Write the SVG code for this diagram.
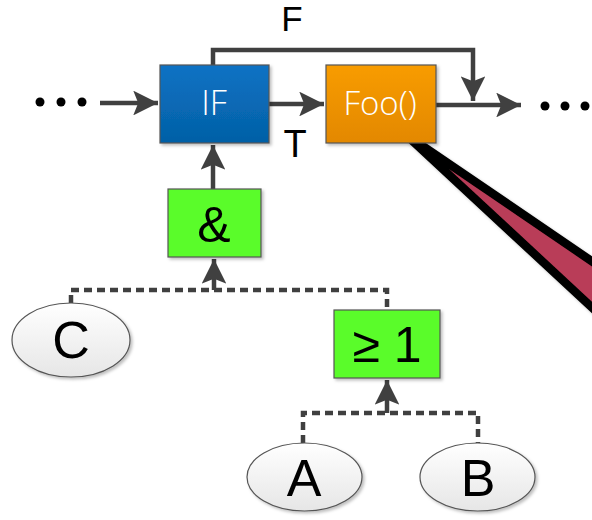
<svg xmlns="http://www.w3.org/2000/svg" width="592" height="520" viewBox="0 0 592 520">
  <defs>
    <linearGradient id="gBlue" x1="0" y1="0" x2="0" y2="1">
      <stop offset="0" stop-color="#0b72c4"/>
      <stop offset="1" stop-color="#0460a6"/>
    </linearGradient>
    <linearGradient id="gOrange" x1="0" y1="0" x2="0" y2="1">
      <stop offset="0" stop-color="#f89c05"/>
      <stop offset="1" stop-color="#e38800"/>
    </linearGradient>
    <linearGradient id="gEllipse" x1="0" y1="0" x2="0" y2="1">
      <stop offset="0" stop-color="#ffffff"/>
      <stop offset="1" stop-color="#e6e6e6"/>
    </linearGradient>
    <filter id="shadow" x="-20%" y="-20%" width="150%" height="150%">
      <feDropShadow dx="2" dy="2" stdDeviation="1.5" flood-color="#000" flood-opacity="0.25"/>
    </filter>
    <marker id="arrow" viewBox="0 0 10 10" refX="10" refY="5" markerWidth="5.5" markerHeight="5.5" markerUnits="strokeWidth" orient="auto">
      <path d="M0,0 L10,5 L0,10 L2,5 Z" fill="#404040"/>
    </marker>
  </defs>
  <style>
    .box { stroke: #555; stroke-width: 1.2; filter: url(#shadow); }
    .green { fill: #5afc2a; }
    .ell { fill: url(#gEllipse); stroke: #555; stroke-width: 1.2; filter: url(#shadow); }
    .wire { fill: none; stroke: #404040; stroke-width: 4.5; }
    .dash { fill: none; stroke: #404040; stroke-width: 4.5; stroke-dasharray: 8 5; }
    .lbl { font-family: "Open Sans", "Liberation Sans", sans-serif; font-weight: 300; fill: #ffffff; text-anchor: middle; }
    .big { font-family: "Liberation Sans", "DejaVu Sans", sans-serif; fill: #000; text-anchor: middle; }
    .dot { fill: #000; }
  </style>

  <!-- callout pointer -->
  <polygon points="405,134 640,294 640,352" fill="#b93c58" stroke="#000" stroke-width="8.5" stroke-linejoin="round" filter="url(#shadow)"/>

  <!-- connectors -->
  <g id="connectors">
    <line class="wire" x1="100" y1="103" x2="158" y2="103" marker-end="url(#arrow)"/>
    <line class="wire" x1="269" y1="104" x2="324" y2="104" marker-end="url(#arrow)"/>
    <line class="wire" x1="436" y1="105" x2="521" y2="105" marker-end="url(#arrow)"/>
    <polyline class="wire" points="213,65 213,50 473,50 473,101" marker-end="url(#arrow)"/>
    <line class="wire" x1="213" y1="189" x2="213" y2="145" marker-end="url(#arrow)"/>
    <polyline class="dash" points="71,303 71,290 387,290 387,309"/>
    <line class="wire" x1="214" y1="290" x2="214" y2="259" marker-end="url(#arrow)"/>
    <polyline class="dash" points="303,443 303,413 478,413 478,443"/>
    <line class="wire" x1="387" y1="413" x2="387" y2="380" marker-end="url(#arrow)"/>
  </g>

  <!-- ellipsis marks at both ends of the flow -->
  <g id="dotsLeft">
    <circle class="dot" cx="40" cy="102" r="4.5"/>
    <circle class="dot" cx="61" cy="102" r="4.5"/>
    <circle class="dot" cx="82" cy="102" r="4.5"/>
  </g>
  <g id="dotsRight">
    <circle class="dot" cx="545" cy="106" r="4.5"/>
    <circle class="dot" cx="565" cy="106" r="4.5"/>
    <circle class="dot" cx="585" cy="106" r="4.5"/>
  </g>

  <g id="labelF"><text class="big" x="292" y="31" font-size="35">F</text></g>
  <g id="labelT"><text class="big" x="295" y="157" font-size="38">T</text></g>

  <g id="nodeIF">
    <rect class="box" x="160" y="65" width="109" height="78" fill="url(#gBlue)"/>
    <text class="lbl" x="214" y="115" font-size="34">IF</text>
  </g>
  <g id="nodeFoo">
    <rect class="box" x="326" y="65" width="110" height="78" fill="url(#gOrange)"/>
    <text class="lbl" x="380" y="115" font-size="33">Foo()</text>
  </g>
  <g id="nodeAnd">
    <rect class="box green" x="168" y="189" width="93" height="68"/>
    <text class="big" x="214" y="242" font-size="50">&amp;</text>
  </g>
  <g id="nodeOr">
    <rect class="box green" x="334" y="310" width="106" height="68"/>
    <text class="big" x="387" y="362" font-size="50">≥ 1</text>
  </g>
  <g id="nodeC">
    <ellipse class="ell" cx="71" cy="340" rx="59" ry="37"/>
    <text class="big" x="71" y="358" font-size="52">C</text>
  </g>
  <g id="nodeA">
    <ellipse class="ell" cx="304.5" cy="477" rx="57.5" ry="34"/>
    <text class="big" x="304" y="496" font-size="52">A</text>
  </g>
  <g id="nodeB">
    <ellipse class="ell" cx="477.5" cy="477" rx="57.5" ry="34"/>
    <text class="big" x="478" y="496" font-size="52">B</text>
  </g>
</svg>
